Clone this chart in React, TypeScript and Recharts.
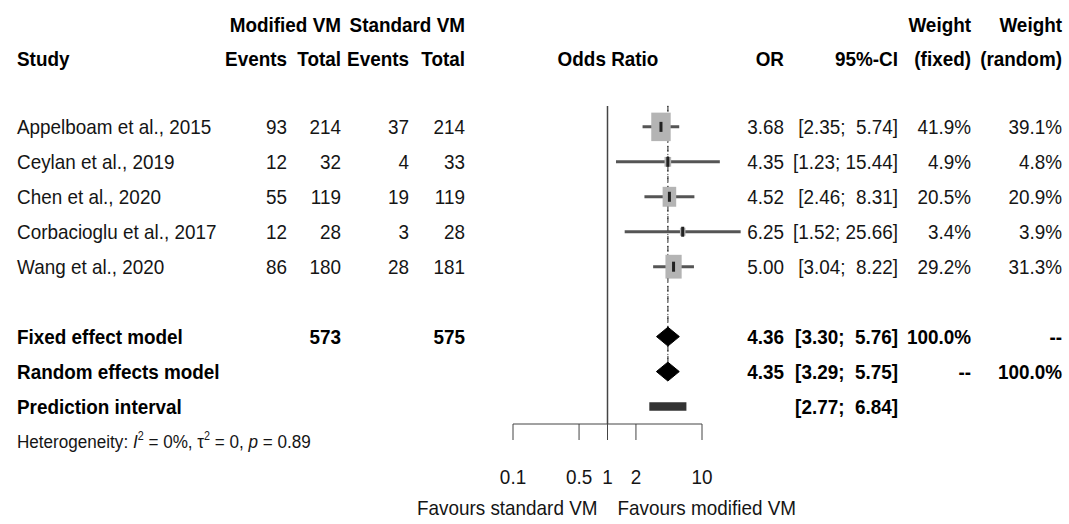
import React from "react";
import { ComposedChart, XAxis, YAxis, Scatter, ReferenceLine, ReferenceArea } from "recharts";

const studies = [
  "Appelboam et al., 2015",
  "Ceylan et al., 2019",
  "Chen et al., 2020",
  "Corbacioglu et al., 2017",
  "Wang et al., 2020",
];
const modEvents = [93, 12, 55, 12, 86];
const modTotal = [214, 32, 119, 28, 180];
const stdEvents = [37, 4, 19, 3, 28];
const stdTotal = [214, 33, 119, 28, 181];
const oddsRatio = [3.68, 4.35, 4.52, 6.25, 5.0];
const ciLow = [2.35, 1.23, 2.46, 1.52, 3.04];
const ciHigh = [5.74, 15.44, 8.31, 25.66, 8.22];
const weightFixed = [41.9, 4.9, 20.5, 3.4, 29.2];
const weightRandom = [39.1, 4.8, 20.9, 3.9, 31.3];

// [OR, lower, upper]
const fixedEffect = [4.36, 3.3, 5.76];
const randomEffect = [4.35, 3.29, 5.75];
const predInterval = [2.77, 6.84];
const pooledTotals = [573, 575];
const xTicks = [0.1, 0.5, 1, 2, 10];

// row positions (one unit per table line)
const HEAD1 = -2.92;
const HEAD2 = -1.95;
const FIXED_ROW = 6;
const RANDOM_ROW = 7;
const PRED_ROW = 8;
const HET_ROW = 9;
const rowTicks = [HEAD1, HEAD2, 0, 1, 2, 3, 4, FIXED_ROW, RANDOM_ROW, PRED_ROW, HET_ROW];

const FONT = "'Liberation Sans', Arial, sans-serif";
const SX = 0.9;
const DIAMOND_H = 0.27;

// text column anchors
const COL = {
  study: 17,
  modEv: 287,
  modTot: 341,
  stdEv: 409,
  stdTot: 465,
  odds: 608,
  or: 784,
  ci: 898,
  wFix: 971,
  wRan: 1062,
};

const fmtCI = (lo: number, hi: number) => `[${lo.toFixed(2)}; ${hi.toFixed(2).padStart(5, " ")}]`;
const fmtW = (w: number) => `${w.toFixed(1)}%`;

function Txt({ x, y, anchor = "start", bold = false, size = 21, children }: any) {
  return (
    <g transform={`translate(${x},${y}) scale(${SX},1)`}>
      <text
        x={0}
        y={0}
        dy="0.36em"
        textAnchor={anchor}
        fontFamily={FONT}
        fontSize={size}
        fontWeight={bold ? 700 : 400}
        fill={bold ? "#000" : "#151515"}
        style={{ whiteSpace: "pre" }}
      >
        {children}
      </text>
    </g>
  );
}

function RowTick(props: any) {
  const { y, payload } = props;
  const r = payload.value;
  if (r === HEAD1) {
    return (
      <g>
        <Txt x={COL.modTot} y={y} anchor="end" bold>Modified VM</Txt>
        <Txt x={COL.stdTot} y={y} anchor="end" bold>Standard VM</Txt>
        <Txt x={COL.wFix} y={y} anchor="end" bold>Weight</Txt>
        <Txt x={COL.wRan} y={y} anchor="end" bold>Weight</Txt>
      </g>
    );
  }
  if (r === HEAD2) {
    return (
      <g>
        <Txt x={COL.study} y={y} bold>Study</Txt>
        <Txt x={COL.modEv} y={y} anchor="end" bold>Events</Txt>
        <Txt x={COL.modTot} y={y} anchor="end" bold>Total</Txt>
        <Txt x={COL.stdEv} y={y} anchor="end" bold>Events</Txt>
        <Txt x={COL.stdTot} y={y} anchor="end" bold>Total</Txt>
        <Txt x={COL.odds} y={y} anchor="middle" bold>Odds Ratio</Txt>
        <Txt x={COL.or} y={y} anchor="end" bold>OR</Txt>
        <Txt x={COL.ci} y={y} anchor="end" bold>95%-CI</Txt>
        <Txt x={COL.wFix} y={y} anchor="end" bold>(fixed)</Txt>
        <Txt x={COL.wRan} y={y} anchor="end" bold>(random)</Txt>
      </g>
    );
  }
  if (r >= 0 && r < studies.length) {
    const i = r;
    return (
      <g>
        <Txt x={COL.study} y={y}>{studies[i]}</Txt>
        <Txt x={COL.modEv} y={y} anchor="end">{modEvents[i]}</Txt>
        <Txt x={COL.modTot} y={y} anchor="end">{modTotal[i]}</Txt>
        <Txt x={COL.stdEv} y={y} anchor="end">{stdEvents[i]}</Txt>
        <Txt x={COL.stdTot} y={y} anchor="end">{stdTotal[i]}</Txt>
        <Txt x={COL.or} y={y} anchor="end">{oddsRatio[i].toFixed(2)}</Txt>
        <Txt x={COL.ci} y={y} anchor="end">{fmtCI(ciLow[i], ciHigh[i])}</Txt>
        <Txt x={COL.wFix} y={y} anchor="end">{fmtW(weightFixed[i])}</Txt>
        <Txt x={COL.wRan} y={y} anchor="end">{fmtW(weightRandom[i])}</Txt>
      </g>
    );
  }
  if (r === FIXED_ROW) {
    return (
      <g>
        <Txt x={COL.study} y={y} bold>Fixed effect model</Txt>
        <Txt x={COL.modTot} y={y} anchor="end" bold>{pooledTotals[0]}</Txt>
        <Txt x={COL.stdTot} y={y} anchor="end" bold>{pooledTotals[1]}</Txt>
        <Txt x={COL.or} y={y} anchor="end" bold>{fixedEffect[0].toFixed(2)}</Txt>
        <Txt x={COL.ci} y={y} anchor="end" bold>{fmtCI(fixedEffect[1], fixedEffect[2])}</Txt>
        <Txt x={COL.wFix} y={y} anchor="end" bold>100.0%</Txt>
        <Txt x={COL.wRan} y={y} anchor="end" bold>--</Txt>
      </g>
    );
  }
  if (r === RANDOM_ROW) {
    return (
      <g>
        <Txt x={COL.study} y={y} bold>Random effects model</Txt>
        <Txt x={COL.or} y={y} anchor="end" bold>{randomEffect[0].toFixed(2)}</Txt>
        <Txt x={COL.ci} y={y} anchor="end" bold>{fmtCI(randomEffect[1], randomEffect[2])}</Txt>
        <Txt x={COL.wFix} y={y} anchor="end" bold>--</Txt>
        <Txt x={COL.wRan} y={y} anchor="end" bold>100.0%</Txt>
      </g>
    );
  }
  if (r === PRED_ROW) {
    return (
      <g>
        <Txt x={COL.study} y={y} bold>Prediction interval</Txt>
        <Txt x={COL.ci} y={y} anchor="end" bold>{fmtCI(predInterval[0], predInterval[1])}</Txt>
      </g>
    );
  }
  if (r === HET_ROW) {
    return (
      <Txt x={COL.study} y={y} size={19}>
        Heterogeneity: <tspan fontStyle="italic">I</tspan>
        <tspan dy={-8} fontSize={12}>2</tspan>
        <tspan dy={8}> = 0%, τ</tspan>
        <tspan dy={-8} fontSize={12}>2</tspan>
        <tspan dy={8}> = 0, </tspan>
        <tspan fontStyle="italic">p</tspan> = 0.89
      </Txt>
    );
  }
  return null;
}

function AxisTick(props: any) {
  const { x, y, payload } = props;
  return <Txt x={x} y={y} anchor="middle">{String(payload.value)}</Txt>;
}

function FavoursLabel(props: any) {
  const vb = props.viewBox || {};
  const cx = vb.x + vb.width / 2;
  const y = vb.y + 83;
  return (
    <g>
      <Txt x={cx - 10} y={y} anchor="end">Favours standard VM</Txt>
      <Txt x={cx + 10} y={y}>Favours modified VM</Txt>
    </g>
  );
}

function WeightSquare(props: any) {
  const { cx, cy, payload } = props;
  const s = Math.sqrt(payload.w);
  const w = 3 * s;
  const h = 4.4 * s;
  return <rect x={cx - w / 2} y={cy - h / 2} width={w} height={h} fill="#b4b4b4" />;
}

function EstimateMark(props: any) {
  const { cx, cy } = props;
  return <rect x={cx - 1.5} y={cy - 5} width={3} height={10} fill="#222" />;
}

const squareData = studies.map((_, i) => ({ x: oddsRatio[i], y: i, w: weightFixed[i] }));
const diamond = (eff: number[], row: number) => [
  { x: eff[1], y: row },
  { x: eff[0], y: row - DIAMOND_H },
  { x: eff[2], y: row },
  { x: eff[0], y: row + DIAMOND_H },
];

export default function App() {
  return (
    <div style={{ width: 1069, height: 524, background: "#fff", fontFamily: FONT }}>
      <style>{"body{margin:0}"}</style>
      <ComposedChart width={1069} height={524} margin={{ top: 22, right: 367, bottom: 0, left: 503 }}>
        <XAxis
          dataKey="x"
          type="number"
          scale="log"
          domain={[0.1, 10]}
          ticks={xTicks}
          interval={0}
          height={100}
          tickSize={16}
          tickMargin={36}
          stroke="#444"
          tick={<AxisTick />}
          label={FavoursLabel}
        />
        <YAxis
          dataKey="y"
          type="number"
          domain={[-3, 8.5]}
          reversed
          width={10}
          ticks={rowTicks}
          interval={0}
          axisLine={false}
          tickLine={false}
          tick={<RowTick />}
        />
        <ReferenceLine
          segment={[{ x: 1, y: -0.6 }, { x: 1, y: 8.5 }]}
          stroke="#444"
          strokeWidth={1.5}
          ifOverflow="visible"
        />
        <ReferenceLine
          segment={[{ x: fixedEffect[0], y: -0.6 }, { x: fixedEffect[0], y: RANDOM_ROW }]}
          stroke="#222"
          strokeDasharray="6 4"
          ifOverflow="visible"
        />
        <ReferenceLine
          segment={[{ x: randomEffect[0], y: -0.6 }, { x: randomEffect[0], y: RANDOM_ROW }]}
          stroke="#222"
          strokeDasharray="1 3"
          ifOverflow="visible"
        />
        <Scatter data={squareData} shape={<WeightSquare />} isAnimationActive={false} />
        {studies.map((s, i) => (
          <ReferenceLine
            key={s}
            segment={[{ x: ciLow[i], y: i }, { x: ciHigh[i], y: i }]}
            stroke="#555"
            strokeWidth={3}
            ifOverflow="visible"
          />
        ))}
        <Scatter data={squareData} shape={<EstimateMark />} isAnimationActive={false} />
        <Scatter
          data={diamond(fixedEffect, FIXED_ROW)}
          fill="#000"
          line={{ fill: "#000", stroke: "#000" }}
          lineJointType="linearClosed"
          shape={() => <g />}
          isAnimationActive={false}
        />
        <Scatter
          data={diamond(randomEffect, RANDOM_ROW)}
          fill="#000"
          line={{ fill: "#000", stroke: "#000" }}
          lineJointType="linearClosed"
          shape={() => <g />}
          isAnimationActive={false}
        />
        <ReferenceArea
          x1={predInterval[0]}
          x2={predInterval[1]}
          y1={PRED_ROW - 0.12}
          y2={PRED_ROW + 0.12}
          fill="#333"
          fillOpacity={1}
          ifOverflow="visible"
        />
      </ComposedChart>
    </div>
  );
}
